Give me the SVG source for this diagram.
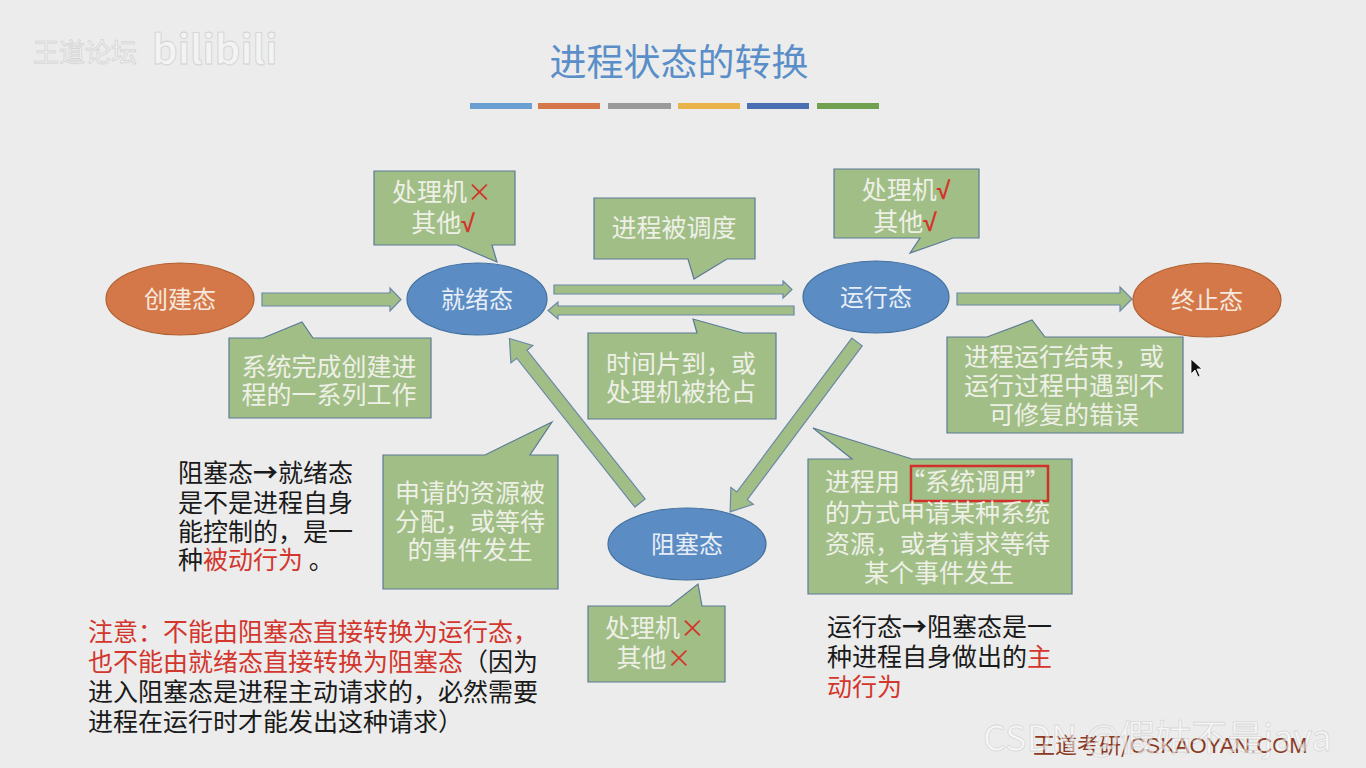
<svg xmlns="http://www.w3.org/2000/svg" width="1366" height="768" viewBox="0 0 1366 768">
<defs>
<style>
text{font-family:"Noto Sans CJK SC","Liberation Sans",sans-serif;}
.callout{fill:#a1be86;stroke:#5b7a96;stroke-width:1.2;}
.arrow{fill:#a1be86;stroke:#6b88a8;stroke-width:1.2;}
.ell-o{fill:#d4784a;stroke:#b0602f;stroke-width:1.2;}
.ell-b{fill:#5b8cc4;stroke:#41709f;stroke-width:1.2;}
.etxt{font-size:24px;text-anchor:middle;}
.ctxt{font-size:25px;fill:#eef0e6;text-anchor:middle;}
.ltxt{font-size:25px;fill:#eef0e6;}
.btxt{font-size:25px;fill:#1a1a1a;}
.red{fill:#d2362c;}
.ck{fill:#d2362c;font-weight:bold;font-family:"Liberation Sans",sans-serif;}
</style>
</defs>
<rect x="0" y="0" width="1366" height="768" fill="#ececec"/>

<!-- watermarks -->
<g id="watermark-top" opacity="0.9">
<text x="33" y="62" font-size="26" fill="#f6f6f6" stroke="#d2d2d2" stroke-width="0.8">王道论坛</text>
<text x="152" y="64" font-size="40" font-weight="bold" fill="#f4f4f4" stroke="#cfcfcf" stroke-width="0.8" font-family="Liberation Sans,sans-serif">bilibili</text>
</g>

<!-- title -->
<g id="title">
<text x="679" y="76" font-size="37" fill="#5a8ec8" text-anchor="middle">进程状态的转换</text>
<rect x="470" y="103" width="62" height="6" fill="#6a9fd2"/>
<rect x="538" y="103" width="62" height="6" fill="#d5774a"/>
<rect x="608" y="103" width="63" height="6" fill="#9a9a9a"/>
<rect x="678" y="103" width="62" height="6" fill="#e9b34a"/>
<rect x="747" y="103" width="62" height="6" fill="#4a6fb3"/>
<rect x="817" y="103" width="62" height="6" fill="#70a050"/>
</g>

<!-- connectors -->
<g id="connectors">
<polygon class="arrow" points="262,293 390,293 390,288 401,299.5 390,311 390,306 262,306"/>
<polygon class="arrow" points="554,285 783,285 783,281 792,289.5 783,298 783,294 554,294"/>
<polygon class="arrow" points="794,306 558,306 558,302 548,310.5 558,319 558,315 794,315"/>
<polygon class="arrow" points="957,293 1120,293 1120,287 1132,299 1120,311 1120,305 957,305"/>
<polygon class="arrow" transform="translate(640,503) rotate(-128.45)" points="0,-6.5 190,-6.5 190,-14 210,0 190,14 190,6.5 0,6.5"/>
<polygon class="arrow" transform="translate(857,342) rotate(126.76)" points="0,-6.5 192,-6.5 192,-14 212,0 192,14 192,6.5 0,6.5"/>
</g>

<!-- state nodes -->
<g id="node-create">
<ellipse class="ell-o" cx="180" cy="299" rx="74" ry="36"/>
<text class="etxt" x="180" y="308" fill="#f6e8de">创建态</text>
</g>
<g id="node-ready">
<ellipse class="ell-b" cx="477" cy="299" rx="70" ry="36"/>
<text class="etxt" x="477" y="308" fill="#e8eef6">就绪态</text>
</g>
<g id="node-running">
<ellipse class="ell-b" cx="876" cy="297" rx="73" ry="36"/>
<text class="etxt" x="876" y="306" fill="#e8eef6">运行态</text>
</g>
<g id="node-terminated">
<ellipse class="ell-o" cx="1207" cy="300" rx="74" ry="37"/>
<text class="etxt" x="1207" y="309" fill="#f6e8de">终止态</text>
</g>
<g id="node-blocked">
<ellipse class="ell-b" cx="687" cy="544" rx="79" ry="36"/>
<text class="etxt" x="687" y="553" fill="#e8eef6">阻塞态</text>
</g>

<!-- callouts -->
<g id="callout-ready-res">
<path class="callout" d="M374,171 H515 V245 H492 L497,262 L457,245 H374 Z"/>
<text class="ctxt" x="442" y="201">处理机<tspan class="red">×</tspan></text>
<text class="ctxt" x="443" y="232">其他<tspan class="ck">√</tspan></text>
</g>
<g id="callout-run-res">
<path class="callout" d="M834,169 H979 V238 H953 L910,253 L920,238 H834 Z"/>
<text class="ctxt" x="906" y="199">处理机<tspan class="ck">√</tspan></text>
<text class="ctxt" x="905" y="231">其他<tspan class="ck">√</tspan></text>
</g>
<g id="callout-dispatch">
<path class="callout" d="M594,198 H755 V259 H727 L694,279 L688,259 H594 Z"/>
<text class="ctxt" x="674" y="237">进程被调度</text>
</g>
<g id="callout-create">
<path class="callout" d="M229,338 H263 L302,322 L313,338 H431 V418 H229 Z"/>
<text class="ctxt" x="329" y="376">系统完成创建进</text>
<text class="ctxt" x="329" y="404">程的一系列工作</text>
</g>
<g id="callout-preempt">
<path class="callout" d="M588,333 H697 L693,319 L743,333 H776 V419 H588 Z"/>
<text class="ctxt" x="681" y="373">时间片到，或</text>
<text class="ctxt" x="681" y="401">处理机被抢占</text>
</g>
<g id="callout-exit">
<path class="callout" d="M947,337 H987 L1032,320 L1045,337 H1183 V433 H947 Z"/>
<text class="ctxt" x="1064" y="366">进程运行结束，或</text>
<text class="ctxt" x="1064" y="395">运行过程中遇到不</text>
<text class="ctxt" x="1064" y="424">可修复的错误</text>
</g>
<g id="callout-wakeup">
<path class="callout" d="M383,455 H485 L552,422 L530,455 H558 V589 H383 Z"/>
<text class="ctxt" x="470" y="502">申请的资源被</text>
<text class="ctxt" x="470" y="531">分配，或等待</text>
<text class="ctxt" x="470" y="559">的事件发生</text>
</g>
<g id="callout-block">
<path class="callout" d="M808,459 H852 L813,428 L912,459 H1072 V594 H808 Z"/>
<text class="ltxt" x="825" y="491">进程用“系统调用”</text>
<rect x="911" y="466" width="137" height="35" fill="none" stroke="#d2302a" stroke-width="2.5"/>
<text class="ltxt" x="825" y="522">的方式申请某种系统</text>
<text class="ltxt" x="825" y="553">资源，或者请求等待</text>
<text class="ctxt" x="939" y="582">某个事件发生</text>
</g>
<g id="callout-blocked-res">
<path class="callout" d="M588,606 H670 L698,584 L702,606 H725 V682 H588 Z"/>
<text class="ctxt" x="655" y="637">处理机<tspan class="red">×</tspan></text>
<text class="ctxt" x="654" y="667">其他<tspan class="red">×</tspan></text>
</g>

<!-- notes -->
<g id="note-passive">
<text class="btxt" x="178" y="482">阻塞态<tspan font-weight="bold">→</tspan>就绪态</text>
<text class="btxt" x="178" y="512">是不是进程自身</text>
<text class="btxt" x="178" y="541">能控制的，是一</text>
<text class="btxt" x="178" y="569">种<tspan class="red">被动行为</tspan> 。</text>
</g>
<g id="note-active">
<text class="btxt" x="827" y="636">运行态<tspan font-weight="bold">→</tspan>阻塞态是一</text>
<text class="btxt" x="827" y="666">种进程自身做出的<tspan class="red">主</tspan></text>
<text class="btxt" x="827" y="696"><tspan class="red">动行为</tspan></text>
</g>
<g id="note-warning">
<text class="btxt" x="88" y="641"><tspan class="red">注意：不能由阻塞态直接转换为运行态，</tspan></text>
<text class="btxt" x="88" y="671"><tspan class="red">也不能由就绪态直接转换为阻塞态</tspan>（因为</text>
<text class="btxt" x="88" y="701">进入阻塞态是进程主动请求的，必然需要</text>
<text class="btxt" x="88" y="731">进程在运行时才能发出这种请求）</text>
</g>

<!-- cursor -->
<g id="cursor">
<path d="M1191,359 L1191,374 L1195,370 L1198,377 L1200,376 L1197,369 L1202,369 Z" fill="#111" stroke="#fff" stroke-width="0.8"/>
</g>

<!-- footer -->
<g id="footer">
<text x="1033" y="753" font-size="22" fill="#8a3a22">王道考研/<tspan font-family="Liberation Sans,sans-serif">CSKAOYAN.COM</tspan></text>
<text x="983" y="751" font-size="36" fill="#ffffff" fill-opacity="0.55" stroke="#c8c8c8" stroke-opacity="0.6" stroke-width="0.8" font-family="Liberation Sans,Noto Sans CJK SC,sans-serif">CSDN @假姑不是java</text>
</g>
</svg>
